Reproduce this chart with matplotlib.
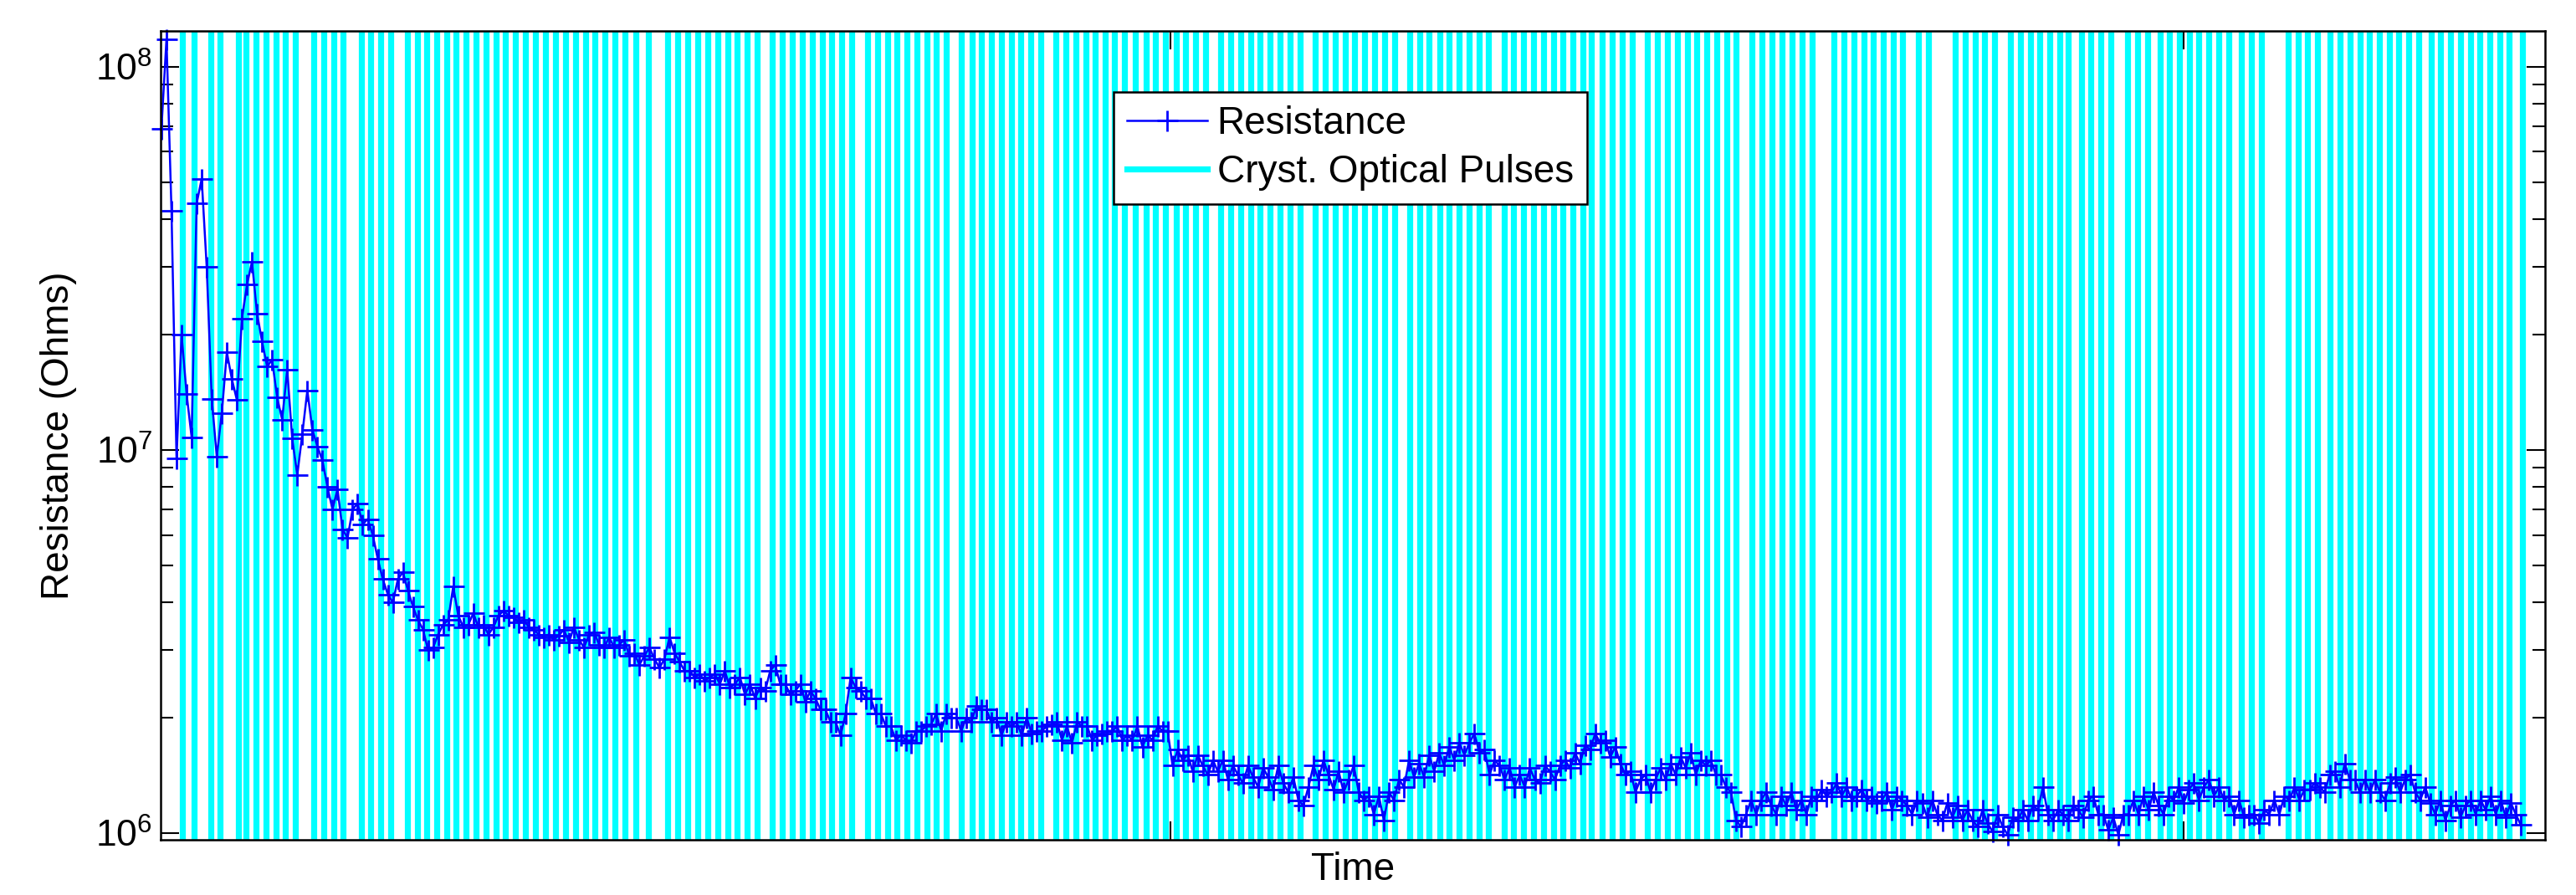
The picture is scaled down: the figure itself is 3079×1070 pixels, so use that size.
import numpy as np
import matplotlib
matplotlib.use("Agg")
import matplotlib.pyplot as plt
from matplotlib.lines import Line2D
from matplotlib.ticker import NullFormatter, FixedLocator, LogLocator

plt.rcParams['font.family'] = ['Liberation Sans', 'DejaVu Sans']
plt.rcParams['mathtext.fontset'] = 'custom'
plt.rcParams['mathtext.rm'] = 'Liberation Sans'

# ---------------- data ----------------
# Resistance readings (MOhm), evenly sampled in time
resistance_MOhm = [
    69, 118, 42, 9.5, 20, 14, 10.8, 44, 51, 30,
    13.6, 9.6, 12.5, 18, 15.3, 13.5, 22, 27, 31, 22.7,
    19.2, 16.5, 17.2, 13.7, 12, 16.2, 10.7, 8.6, 11, 14.3,
    11.3, 10.2, 9.4, 8.0, 7.0, 7.9, 6.2, 5.9, 7.0, 7.25,
    6.4, 6.6, 6.0, 5.2, 4.6, 4.2, 4.0, 4.6, 4.8, 4.3,
    3.9, 3.6, 3.4, 3.0, 3.05, 3.3, 3.5, 3.6, 4.4, 3.7,
    3.45, 3.5, 3.75, 3.45, 3.5, 3.3, 3.45, 3.7, 3.8, 3.7,
    3.65, 3.55, 3.6, 3.45, 3.4, 3.3, 3.25, 3.3, 3.2, 3.28,
    3.4, 3.15, 3.45, 3.2, 3.05, 3.3, 3.35, 3.1, 3.05, 3.25,
    3.05, 3.1, 3.2, 2.9, 2.95, 2.75, 2.9, 3.05, 2.85, 2.7,
    2.85, 3.25, 2.95, 2.8, 2.65, 2.65, 2.55, 2.6, 2.5, 2.55,
    2.6, 2.45, 2.65, 2.4, 2.45, 2.55, 2.3, 2.45, 2.25, 2.4,
    2.35, 2.65, 2.75, 2.45, 2.45, 2.3, 2.35, 2.45, 2.2, 2.35,
    2.25, 2.1, 2.1, 1.95, 1.95, 1.8, 2.05, 2.55, 2.4, 2.35,
    2.25, 2.25, 2.05, 2.05, 1.9, 1.9, 1.75, 1.8, 1.75, 1.72,
    1.85, 1.85, 1.9, 1.92, 2.05, 1.85, 2.05, 2.0, 2.0, 1.85,
    2.0, 1.95, 2.15, 2.1, 2.1, 1.95, 2.0, 1.8, 1.95, 1.9,
    1.95, 1.8, 2.0, 1.82, 1.85, 1.85, 1.9, 1.92, 1.95, 1.75,
    1.9, 1.72, 1.95, 1.9, 1.9, 1.75, 1.8, 1.82, 1.85, 1.85,
    1.9, 1.75, 1.8, 1.75, 1.9, 1.68, 1.8, 1.75, 1.9, 1.85,
    1.85, 1.5, 1.65, 1.55, 1.6, 1.45, 1.6, 1.5, 1.42, 1.55,
    1.45, 1.55, 1.38, 1.5, 1.42, 1.35, 1.5, 1.4, 1.32, 1.48,
    1.4, 1.3, 1.5, 1.35, 1.28, 1.4, 1.22, 1.18, 1.32, 1.5,
    1.38, 1.55, 1.42, 1.3, 1.45, 1.28, 1.38, 1.5, 1.28, 1.22,
    1.25, 1.12, 1.25, 1.08, 1.28, 1.22, 1.38, 1.32, 1.55, 1.4,
    1.52, 1.4, 1.6, 1.45, 1.62, 1.5, 1.68, 1.55, 1.72, 1.6,
    1.72, 1.82, 1.62, 1.65, 1.42, 1.55, 1.5, 1.38, 1.48, 1.32,
    1.42, 1.32, 1.48, 1.38, 1.35, 1.5, 1.45, 1.38, 1.5, 1.55,
    1.48, 1.62, 1.52, 1.7, 1.65, 1.82, 1.72, 1.75, 1.58, 1.68,
    1.52, 1.42, 1.45, 1.28, 1.38, 1.42, 1.28, 1.38, 1.48, 1.38,
    1.52, 1.42, 1.58, 1.48, 1.62, 1.42, 1.55, 1.5, 1.55, 1.42,
    1.42, 1.32, 1.28, 1.08, 1.04, 1.12, 1.22, 1.12, 1.22, 1.28,
    1.18, 1.12, 1.25, 1.18, 1.28, 1.15, 1.22, 1.12, 1.25, 1.22,
    1.3, 1.25, 1.28, 1.35, 1.25, 1.32, 1.22, 1.25, 1.3, 1.22,
    1.25, 1.2, 1.22, 1.28, 1.15, 1.25, 1.22, 1.18, 1.12, 1.22,
    1.2, 1.1, 1.22, 1.12, 1.08, 1.2, 1.1, 1.18, 1.08, 1.15,
    1.08, 1.04, 1.15, 1.06, 1.01, 1.12, 1.04, 0.99, 1.1, 1.08,
    1.15, 1.08, 1.18, 1.15, 1.32, 1.12, 1.08, 1.15, 1.12, 1.08,
    1.18, 1.15, 1.1, 1.22, 1.25, 1.12, 1.12, 1.02, 1.1, 0.99,
    1.12, 1.12, 1.22, 1.12, 1.25, 1.15, 1.28, 1.18, 1.12, 1.25,
    1.22, 1.32, 1.2, 1.3, 1.35, 1.22, 1.32, 1.38, 1.25, 1.32,
    1.22, 1.25, 1.12, 1.22, 1.1, 1.12, 1.12, 1.06, 1.15, 1.12,
    1.22, 1.12, 1.25, 1.22, 1.32, 1.22, 1.3, 1.3, 1.35, 1.32,
    1.28, 1.42, 1.45, 1.32, 1.52, 1.38, 1.38, 1.28, 1.38, 1.28,
    1.38, 1.28, 1.22, 1.35, 1.4, 1.28, 1.38, 1.42, 1.28, 1.22,
    1.32, 1.2, 1.12, 1.22, 1.08, 1.18, 1.22, 1.1, 1.18, 1.22,
    1.12, 1.22, 1.15, 1.25, 1.12, 1.22, 1.1, 1.2, 1.12, 1.05,
]
t_start, t_end = 0.0041, 2.3328          # time of first / last reading
time = np.linspace(t_start, t_end, len(resistance_MOhm))
resistance = np.array(resistance_MOhm) * 1e6

# Times of crystallisation optical pulses
pulse_times = [
    0.0247, 0.0365, 0.0525, 0.0619, 0.0798, 0.0874, 0.0974, 0.1070, 0.1170, 0.1267,
    0.1364, 0.1548, 0.1646, 0.1740, 0.1837, 0.2012, 0.2109, 0.2206, 0.2303, 0.2469,
    0.2566, 0.2663, 0.2760, 0.2857, 0.2950, 0.3048, 0.3150, 0.3248, 0.3344, 0.3439,
    0.3536, 0.3635, 0.3735, 0.3832, 0.3931, 0.4029, 0.4129, 0.4225, 0.4320, 0.4416,
    0.4519, 0.4619, 0.4725, 0.4845, 0.5041, 0.5138, 0.5235, 0.5332, 0.5432, 0.5532,
    0.5628, 0.5726, 0.5822, 0.5919, 0.6073, 0.6171, 0.6268, 0.6365, 0.6465, 0.6562,
    0.6658, 0.6756, 0.6852, 0.7010, 0.7107, 0.7207, 0.7303, 0.7401, 0.7497, 0.7594,
    0.7691, 0.7788, 0.7939, 0.8039, 0.8136, 0.8233, 0.8329, 0.8427, 0.8524, 0.8621,
    0.8718, 0.8872, 0.8969, 0.9066, 0.9163, 0.9259, 0.9357, 0.9448, 0.9545, 0.9657,
    0.9757, 0.9854, 0.9954, 1.0054, 1.0151, 1.0248, 1.0344, 1.0496, 1.0596, 1.0693,
    1.0789, 1.0887, 1.0983, 1.1081, 1.1178, 1.1278, 1.1432, 1.1529, 1.1626, 1.1723,
    1.1819, 1.1919, 1.2017, 1.2113, 1.2210, 1.2362, 1.2458, 1.2555, 1.2655, 1.2752,
    1.2849, 1.2945, 1.3043, 1.3140, 1.3291, 1.3388, 1.3485, 1.3581, 1.3679, 1.3779,
    1.3875, 1.3972, 1.4069, 1.4157, 1.4258, 1.4358, 1.4455, 1.4555, 1.4706, 1.4809,
    1.4906, 1.5003, 1.5100, 1.5197, 1.5294, 1.5390, 1.5487, 1.5585, 1.5742, 1.5842,
    1.5939, 1.6035, 1.6135, 1.6233, 1.6330, 1.6547, 1.6647, 1.6744, 1.6842, 1.6938,
    1.7035, 1.7132, 1.7229, 1.7386, 1.7483, 1.7746, 1.7843, 1.7941, 1.8037, 1.8134,
    1.8291, 1.8389, 1.8486, 1.8582, 1.8680, 1.8776, 1.8864, 1.8989, 1.9086, 1.9183,
    1.9280, 1.9449, 1.9547, 1.9643, 1.9765, 1.9861, 1.9958, 2.0055, 2.0152, 2.0249,
    2.0346, 2.0443, 2.0570, 2.0667, 2.0764, 2.1031, 2.1127, 2.1224, 2.1321, 2.1448,
    2.1545, 2.1642, 2.1739, 2.1836, 2.1932, 2.2030, 2.2126, 2.2223, 2.2320, 2.2441,
    2.2538, 2.2635, 2.2732, 2.2829, 2.2926, 2.3022, 2.3120, 2.3216, 2.3341,
]

x_limits = (0.0033, 2.3567)
y_limits = (0.961e6, 1.24e8)
x_tick_positions = [1, 2]
series_labels = ["Resistance", "Cryst. Optical Pulses"]
x_label = "Time"
y_label = "Resistance (Ohms)"

# ---------------- figure ----------------
W, H = 3079, 1070
fig = plt.figure(figsize=(W / 100, H / 100), dpi=100)
ax = fig.add_axes([192 / W, 1 - 1004 / H, (3042 - 192) / W, (1004 - 37) / H])

pulse_col = ax.vlines(pulse_times, 0, 1, transform=ax.get_xaxis_transform(),
                      colors=(0, 1, 1), linewidth=5.2, zorder=1)
res_line, = ax.plot(time, resistance, color=(0, 0, 1), linewidth=1.8,
                    marker='+', markersize=18, markeredgewidth=2.0,
                    zorder=3, clip_on=False)

ax.set_yscale('log')
ax.set_xlim(*x_limits)
ax.set_ylim(*y_limits)

ax.xaxis.set_major_locator(FixedLocator(x_tick_positions))
ax.xaxis.set_major_formatter(NullFormatter())
ax.yaxis.set_major_locator(LogLocator(base=10, numticks=10))
ax.yaxis.set_minor_locator(LogLocator(base=10, subs=np.arange(2, 10), numticks=20))
ax.yaxis.set_minor_formatter(NullFormatter())

ax.tick_params(which='both', direction='in', top=True, right=True,
               width=1.5, color='black')
ax.tick_params(which='major', length=16, labelsize=32, pad=7)
ax.tick_params(which='minor', length=11)
for s in ax.spines.values():
    s.set_linewidth(1.8)
    s.set_zorder(5)

ax.set_xlabel(x_label, fontsize=33)
ax.set_ylabel(y_label, fontsize=33)
ax.xaxis.set_label_coords(0.5, -0.0145)
ax.yaxis.set_label_coords(-0.0351, 0.5)

legend_pulse = Line2D([], [], color=(0, 1, 1), linewidth=5.2)
leg = ax.legend([res_line, legend_pulse], series_labels,
                loc='upper left', bbox_to_anchor=(0.3996, 0.9245),
                borderaxespad=0, fontsize=33, frameon=True, fancybox=False,
                framealpha=1, edgecolor='black', handlelength=2.1,
                handletextpad=0.25, borderpad=0.35, labelspacing=0.3,
                numpoints=1)
leg.get_frame().set_linewidth(1.8)
leg.set_zorder(10)

fig.savefig('out.png', dpi=100)
